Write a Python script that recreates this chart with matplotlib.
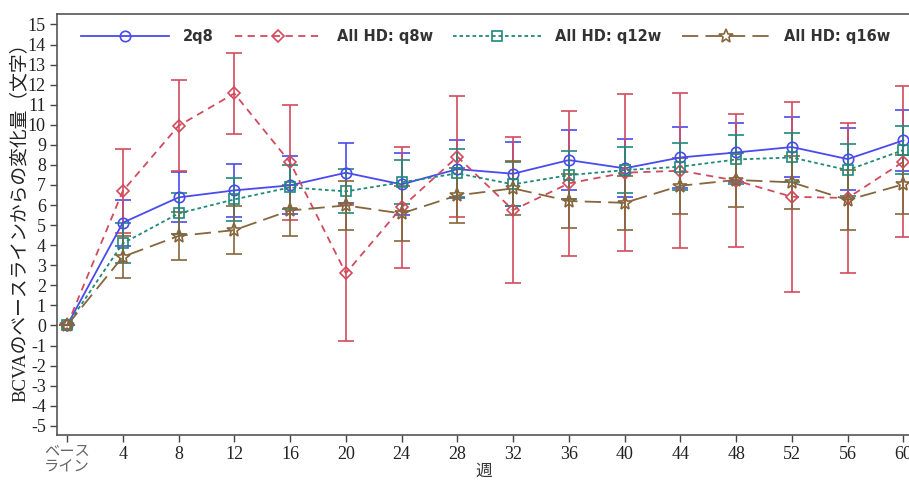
import matplotlib
matplotlib.use('Agg')
import matplotlib.pyplot as plt

# ---- data ----
week_labels = ['ベース\nライン', '4', '8', '12', '16', '20', '24', '28',
               '32', '36', '40', '44', '48', '52', '56', '60']

mean_2q8 = [0, 5.12, 6.38, 6.73, 6.98, 7.61, 7.03, 7.79, 7.56, 8.24, 7.83, 8.37, 8.62, 8.89, 8.29, 9.22]
err_2q8 = [0, 1.15, 1.25, 1.32, 1.45, 1.50, 1.54, 1.45, 1.60, 1.50, 1.45, 1.50, 1.48, 1.50, 1.55, 1.50]

mean_q8w = [0, 6.70, 9.95, 11.56, 8.13, 2.60, 5.88, 8.41, 5.75, 7.08, 7.61, 7.71, 7.22, 6.41, 6.35, 8.16]
err_q8w = [0, 2.07, 2.27, 2.03, 2.87, 3.40, 3.00, 3.00, 3.65, 3.60, 3.90, 3.85, 3.30, 4.72, 3.72, 3.77]

mean_q12w = [0, 4.09, 5.58, 6.28, 6.88, 6.68, 7.13, 7.58, 7.03, 7.49, 7.74, 7.91, 8.27, 8.37, 7.74, 8.74]
err_q12w = [0, 1.00, 1.00, 1.08, 1.10, 1.10, 1.10, 1.20, 1.10, 1.20, 1.16, 1.16, 1.23, 1.23, 1.30, 1.20]

mean_q16w = [0, 3.42, 4.46, 4.75, 5.73, 5.98, 5.58, 6.48, 6.83, 6.20, 6.11, 6.96, 7.25, 7.13, 6.25, 7.03]
err_q16w = [0, 1.04, 1.21, 1.20, 1.25, 1.23, 1.36, 1.36, 1.35, 1.36, 1.36, 1.40, 1.33, 1.33, 1.50, 1.48]

series_names = ['2q8', 'All HD: q8w', 'All HD: q12w', 'All HD: q16w']
y_ticks = list(range(-5, 16))

# ---- figure ----
W, H = 909, 482
fig = plt.figure(figsize=(W / 100, H / 100), dpi=100)
ax = fig.add_axes([57 / W, 1 - 435 / H, 1 - 57 / W, (435 - 14) / H])

x = list(range(len(week_labels)))

styles = [
    dict(mean=mean_2q8, err=err_2q8, color='#4a4af0', marker='o', ls='-', ms=7.5),
    dict(mean=mean_q8w, err=err_q8w, color='#d24a5e', marker='D', ls=(0, (4, 3)), ms=6.5),
    dict(mean=mean_q12w, err=err_q12w, color='#1f8a7a', marker='s', ls=(0, (2, 1.6)), ms=6.5),
    dict(mean=mean_q16w, err=err_q16w, color='#86663c', marker='*', ls=(0, (9, 4)), ms=10),
]

handles = []
for name, st in zip(series_names, styles):
    ax.errorbar(x, st['mean'], yerr=st['err'], fmt='none', ecolor=st['color'],
                elinewidth=1.2, capsize=6, capthick=1.2, zorder=2)
    ln, = ax.plot(x, st['mean'], color=st['color'], ls=st['ls'], lw=1.3,
                  marker=st['marker'], ms=st['ms'], mfc='none', mec=st['color'],
                  mew=1.2, label=name, zorder=3)
    handles.append(ln)

ax.set_xlim(-0.18, 15.1)
ax.set_ylim(-5.46, 15.52)
ax.set_xticks(x)
ax.set_xticklabels(week_labels)
ax.set_yticks(y_ticks)
ax.set_yticklabels([str(v) for v in y_ticks])

fam = ['Liberation Serif', 'Noto Sans CJK JP']
for lab in ax.get_xticklabels() + ax.get_yticklabels():
    lab.set_family(fam)
    lab.set_fontsize(13)
    lab.set_color('#222222')
xl = ax.get_xticklabels()
xl[0].set_fontsize(11)
xl[0].set_color('#666666')
xl[0].set_linespacing(1.2)

ax.tick_params(axis='both', direction='out', length=5, width=1, color='#444444', pad=3)
ax.spines['right'].set_visible(False)
for sp in ['left', 'bottom', 'top']:
    ax.spines[sp].set_color('#555555')
    ax.spines[sp].set_linewidth(1.2)

fig.text(484 / W, 1 - 472 / H, '週', family=fam, fontsize=12, color='#333333',
         ha='center', va='center')
ax.set_ylabel('BCVAのベースラインからの変化量（文字）', family=fam, fontsize=13.5,
              color='#222222', va='center')
ax.yaxis.set_label_coords((20 - 57) / 852, (435 - 218) / 421)

leg = ax.legend(handles=handles, loc='upper left', bbox_to_anchor=(0.013, 0.995),
                ncol=4, frameon=False, handlelength=6.0, handletextpad=1.0,
                columnspacing=1.4, numpoints=1,
                prop=dict(family='DejaVu Sans', weight='bold', size=10.5))
for t in leg.get_texts():
    t.set_color('#333333')

fig.savefig('out.png', dpi=100)
